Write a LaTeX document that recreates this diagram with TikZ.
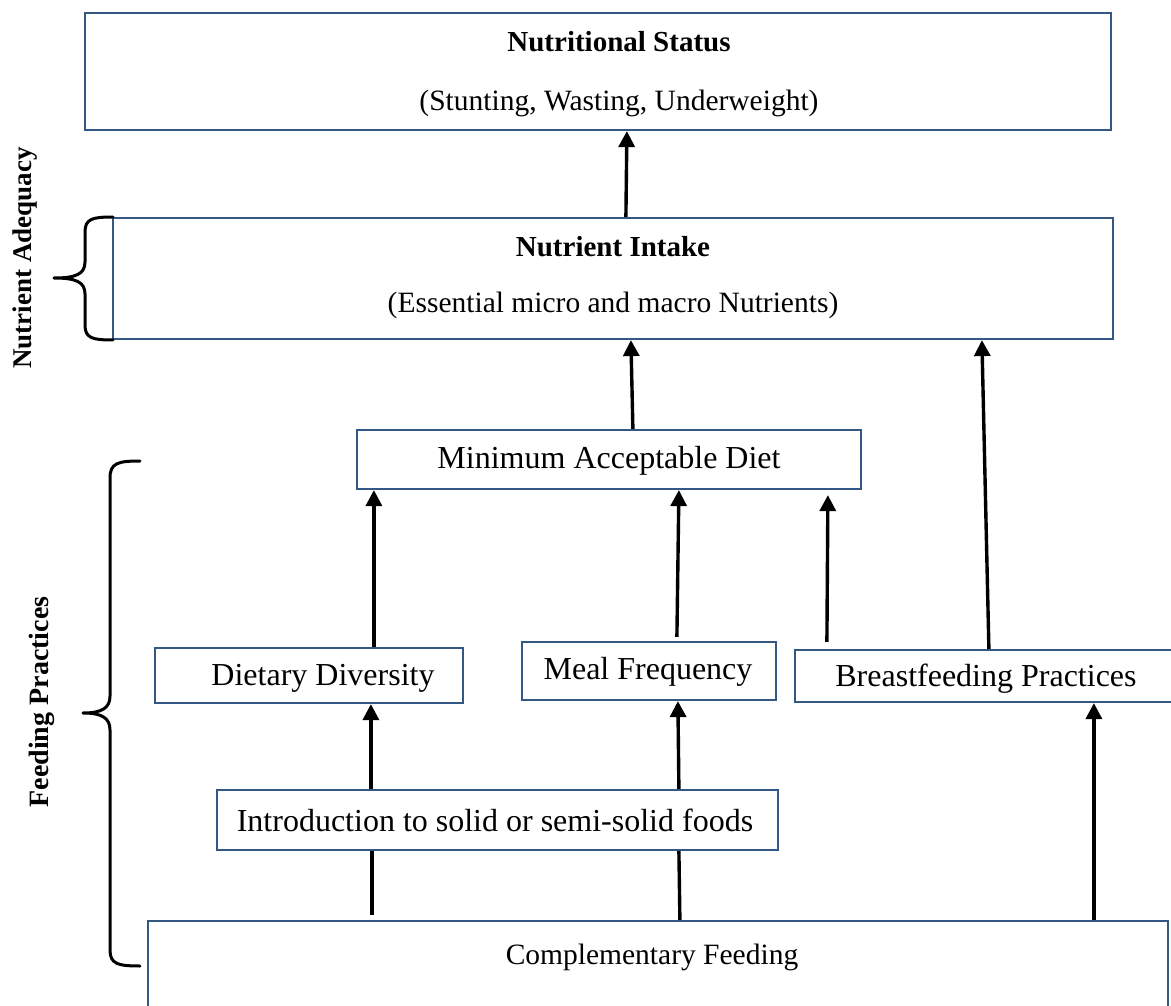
\documentclass[tikz,border=0pt]{standalone}
\usepackage{fontspec}
\setmainfont{Liberation Serif}
\usetikzlibrary{arrows.meta}
\definecolor{boxblue}{RGB}{52,88,132}
\tikzset{
  box/.style={draw=boxblue, line width=2.2pt, fill=white, rectangle, inner sep=0pt},
  txt/.style={inner sep=0pt, anchor=center, font=\fontsize{32}{38}\selectfont},
  btxt/.style={inner sep=0pt, anchor=center, font=\fontsize{29}{34}\selectfont\bfseries},
  stxt/.style={inner sep=0pt, anchor=center, font=\fontsize{29.5}{34}\selectfont},
  arr/.style={line width=3.4pt, -{Triangle[length=16pt,width=16pt]}},
  plain/.style={line width=3.4pt},
  brace/.style={line width=3pt, line cap=round, line join=round},
  side/.style={inner sep=0pt, rotate=90, font=\fontsize{28}{34}\selectfont\bfseries}
}
\begin{document}
\begin{tikzpicture}[x=1pt,y=-1pt]
\clip (0,0) rectangle (1171,1006);
\fill[white] (0,0) rectangle (1171,1006);

% boxes
\node[box, minimum width=1026pt, minimum height=117pt] (ns) at (598,71.5) {};
\node[box, minimum width=1000pt, minimum height=121pt] (ni) at (613,278.5) {};
\node[box, minimum width=504pt, minimum height=59pt] (mad) at (609,459.5) {};
\node[box, minimum width=308pt, minimum height=55pt] (dd) at (309,675.5) {};
\node[box, minimum width=254pt, minimum height=58pt] (mf) at (649,671) {};
\node[box, minimum width=382pt, minimum height=52pt] (bp) at (986,676) {};
\node[box, minimum width=561pt, minimum height=60pt] (intro) at (497.5,820) {};
\node[box, minimum width=1020pt, minimum height=109pt] (cf) at (658,975.5) {};

% texts
\node[btxt] (nst) at (619,42) {Nutritional Status};
\node[stxt] (nss) at (619,103) {(Stunting, Wasting, Underweight)};
\node[btxt] (nit) at (613,247) {Nutrient Intake};
\node[stxt] (nis) at (613,305) {(Essential micro and macro Nutrients)};
\node[txt] (madt) at (609,461) {Minimum Acceptable Diet};
\node[txt] (ddt) at (323,678) {Dietary Diversity};
\node[txt] (mft) at (648,672) {Meal Frequency};
\node[txt] (bpt) at (986,679) {Breastfeeding Practices};
\node[txt] (introt) at (495,820) {Introduction to solid or semi-solid foods};
\node[stxt] (cft) at (652,957) {Complementary Feeding};

% side labels
\node[side, font=\fontsize{27}{32}\selectfont\bfseries] (na) at (25,258) {Nutrient Adequacy};
\node[side] (fp) at (42,702) {Feeding Practices};

% braces
\draw[brace] (113,217) .. controls (92,217) and (85,219) .. (85,232) -- (85,262)
  .. controls (85,274) and (76,278) .. (54,278)
  .. controls (76,278) and (85,282) .. (85,294) -- (85,325)
  .. controls (85,338) and (92,340) .. (113,340);
\draw[brace] (140,461) .. controls (118,461) and (110,463) .. (110,478) -- (110,696)
  .. controls (110,708) and (102,713) .. (83,713)
  .. controls (102,713) and (110,718) .. (110,730) -- (110,950)
  .. controls (110,964) and (118,966) .. (140,966);

% connectors
\draw[arr] ([xshift=514pt]ni.north west) -- ([xshift=543pt]ns.south west);
\draw[arr] ([xshift=277pt]mad.north west) -- ([xshift=519pt]ni.south west);
\draw[arr] ([xshift=195pt]bp.north west) -- ([xshift=870pt]ni.south west);
\draw[arr] ([xshift=220pt]dd.north west) -- ([xshift=18pt]mad.south west);
\coordinate (mfup) at ([xshift=156pt,yshift=4pt]mf.north west);
\draw[arr] (mfup) -- ([xshift=323pt]mad.south west);
\coordinate (bpup) at ([xshift=33pt,yshift=7pt]bp.north west);
\coordinate (bpend) at ([xshift=472pt,yshift=-5pt]mad.south west);
\draw[arr] (bpup) -- (bpend);
\draw[arr] ([xshift=155pt]intro.north west) -- ([xshift=217pt]dd.south west);
\draw[arr] ([xshift=463pt]intro.north west) -- ([xshift=157pt]mf.south west);
\coordinate (cfl) at ([xshift=225pt,yshift=5pt]cf.north west);
\draw[plain] (cfl) -- ([xshift=156pt]intro.south west);
\draw[plain] ([xshift=533pt]cf.north west) -- ([xshift=463pt]intro.south west);
\draw[arr] ([xshift=947pt]cf.north west) -- ([xshift=300pt]bp.south west);
\end{tikzpicture}
\end{document}
